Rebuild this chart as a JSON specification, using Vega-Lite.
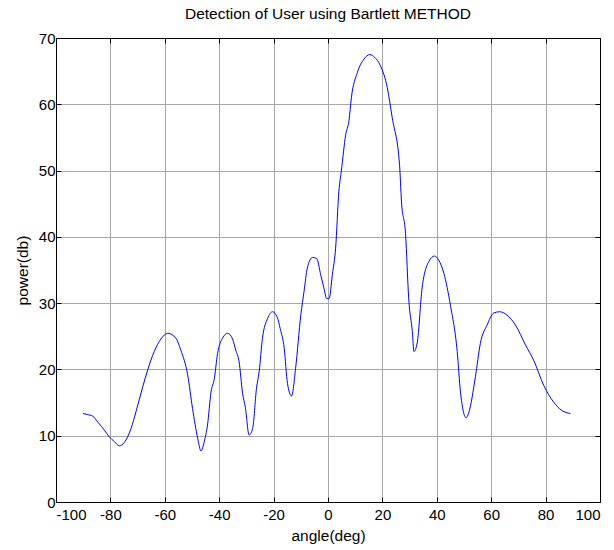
{
  "$schema": "https://vega.github.io/schema/vega-lite/v6.json",
  "width": 544,
  "height": 464,
  "autosize": "none",
  "padding": {"left": 56, "top": 38, "right": 14, "bottom": 48},
  "background": "white",
  "config": {
    "font": "Liberation Sans",
    "view": {"stroke": "black", "strokeWidth": 1},
    "axis": {
      "labelFont": "Liberation Sans",
      "titleFont": "Liberation Sans",
      "labelFontSize": 15,
      "titleFontSize": 15.5,
      "titleFontWeight": "normal",
      "labelColor": "black",
      "titleColor": "black",
      "domainColor": "black",
      "tickColor": "black",
      "gridColor": "#a8a8a8",
      "gridOpacity": 1,
      "gridWidth": 1,
      "labelExpr": "replace(datum.label, '−', '-')"
    }
  },
  "title": {
    "text": "Detection of User using Bartlett METHOD",
    "font": "Liberation Sans",
    "fontSize": 15.5,
    "fontWeight": "normal",
    "color": "black",
    "offset": 9
  },
  "resolve": {"axis": {"x": "independent", "y": "independent"}},
  "data": {
    "values": [
      {"angle": -90.1, "power": 13.35},
      {"angle": -88.5, "power": 13.2},
      {"angle": -86.5, "power": 12.95},
      {"angle": -84.5, "power": 12.0},
      {"angle": -82.2, "power": 10.83},
      {"angle": -80.4, "power": 9.83},
      {"angle": -78.5, "power": 9.1},
      {"angle": -76.7, "power": 8.47},
      {"angle": -74.9, "power": 8.97},
      {"angle": -72.4, "power": 11.1},
      {"angle": -70.6, "power": 13.6},
      {"angle": -68.1, "power": 17.4},
      {"angle": -66.3, "power": 19.9},
      {"angle": -63.9, "power": 22.7},
      {"angle": -61.4, "power": 24.6},
      {"angle": -58.9, "power": 25.45},
      {"angle": -55.9, "power": 24.7},
      {"angle": -54.1, "power": 22.9},
      {"angle": -51.6, "power": 19.2},
      {"angle": -49.8, "power": 14.1},
      {"angle": -47.9, "power": 9.6},
      {"angle": -46.7, "power": 7.7},
      {"angle": -45.5, "power": 9.1},
      {"angle": -44.3, "power": 11.6},
      {"angle": -43.0, "power": 16.6},
      {"angle": -41.8, "power": 18.6},
      {"angle": -40.6, "power": 22.4},
      {"angle": -38.8, "power": 24.7},
      {"angle": -36.9, "power": 25.45},
      {"angle": -35.1, "power": 24.6},
      {"angle": -33.9, "power": 22.9},
      {"angle": -32.7, "power": 21.2},
      {"angle": -31.4, "power": 16.4},
      {"angle": -30.4, "power": 14.3},
      {"angle": -29.0, "power": 10.1},
      {"angle": -27.7, "power": 11.1},
      {"angle": -26.3, "power": 17.1},
      {"angle": -25.3, "power": 19.7},
      {"angle": -24.1, "power": 24.7},
      {"angle": -22.2, "power": 27.7},
      {"angle": -20.4, "power": 28.7},
      {"angle": -18.6, "power": 27.8},
      {"angle": -17.6, "power": 26.2},
      {"angle": -16.1, "power": 23.2},
      {"angle": -14.9, "power": 17.9},
      {"angle": -13.4, "power": 16.0},
      {"angle": -11.9, "power": 20.2},
      {"angle": -10.0, "power": 28.2},
      {"angle": -8.8, "power": 31.8},
      {"angle": -7.6, "power": 35.3},
      {"angle": -5.7, "power": 36.9},
      {"angle": -4.1, "power": 36.7},
      {"angle": -2.7, "power": 34.3},
      {"angle": -1.5, "power": 32.3},
      {"angle": -0.5, "power": 30.7},
      {"angle": 0.4, "power": 30.7},
      {"angle": 1.6, "power": 34.3},
      {"angle": 2.8, "power": 38.3},
      {"angle": 4.0, "power": 46.9},
      {"angle": 4.9, "power": 49.9},
      {"angle": 6.5, "power": 55.4},
      {"angle": 7.7, "power": 57.5},
      {"angle": 8.6, "power": 61.0},
      {"angle": 10.8, "power": 64.8},
      {"angle": 13.2, "power": 66.8},
      {"angle": 15.4, "power": 67.5},
      {"angle": 17.1, "power": 67.1},
      {"angle": 19.3, "power": 65.8},
      {"angle": 21.8, "power": 62.5},
      {"angle": 23.6, "power": 58.0},
      {"angle": 26.3, "power": 50.9},
      {"angle": 27.0, "power": 45.4},
      {"angle": 28.5, "power": 40.5},
      {"angle": 29.7, "power": 30.5},
      {"angle": 31.0, "power": 25.7},
      {"angle": 31.6, "power": 22.7},
      {"angle": 32.8, "power": 24.0},
      {"angle": 34.6, "power": 32.3},
      {"angle": 37.1, "power": 36.3},
      {"angle": 39.2, "power": 37.1},
      {"angle": 40.7, "power": 36.5},
      {"angle": 42.6, "power": 34.5},
      {"angle": 45.0, "power": 29.7},
      {"angle": 47.5, "power": 22.7},
      {"angle": 48.7, "power": 16.6},
      {"angle": 50.8, "power": 12.7},
      {"angle": 51.7, "power": 13.4},
      {"angle": 54.2, "power": 18.9},
      {"angle": 56.0, "power": 23.9},
      {"angle": 58.5, "power": 26.7},
      {"angle": 60.9, "power": 28.5},
      {"angle": 63.1, "power": 28.7},
      {"angle": 65.8, "power": 28.2},
      {"angle": 68.9, "power": 26.7},
      {"angle": 72.6, "power": 23.7},
      {"angle": 75.6, "power": 21.4},
      {"angle": 79.3, "power": 17.6},
      {"angle": 82.9, "power": 15.1},
      {"angle": 86.0, "power": 13.8},
      {"angle": 89.1, "power": 13.35}
    ]
  },
  "layer": [
    {
      "mark": {"type": "line", "color": "#0000ff", "strokeWidth": 1, "interpolate": "monotone"},
      "encoding": {
        "x": {
          "field": "angle",
          "type": "quantitative",
          "scale": {"domain": [-100, 100], "nice": false, "zero": false},
          "axis": {
            "title": "angle(deg)",
            "orient": "bottom",
            "values": [-100, -80, -60, -40, -20, 0, 20, 40, 60, 80, 100],
            "tickSize": -5,
            "labelPadding": 10,
            "titlePadding": 6,
            "grid": true,
            "domain": true
          }
        },
        "y": {
          "field": "power",
          "type": "quantitative",
          "scale": {"domain": [0, 70], "nice": false},
          "axis": {
            "title": "power(db)",
            "orient": "left",
            "values": [0, 10, 20, 30, 40, 50, 60, 70],
            "tickSize": -5,
            "labelPadding": 6,
            "titlePadding": 8,
            "grid": true,
            "domain": true
          }
        }
      }
    },
    {
      "mark": {"type": "line", "opacity": 0},
      "encoding": {
        "x": {
          "field": "angle",
          "type": "quantitative",
          "axis": {"orient": "top", "title": null, "labels": false, "grid": false, "tickSize": -5, "values": [-100, -80, -60, -40, -20, 0, 20, 40, 60, 80, 100]}
        },
        "y": {
          "field": "power",
          "type": "quantitative",
          "axis": {"orient": "right", "title": null, "labels": false, "grid": false, "tickSize": -5, "values": [0, 10, 20, 30, 40, 50, 60, 70]}
        }
      }
    }
  ]
}
